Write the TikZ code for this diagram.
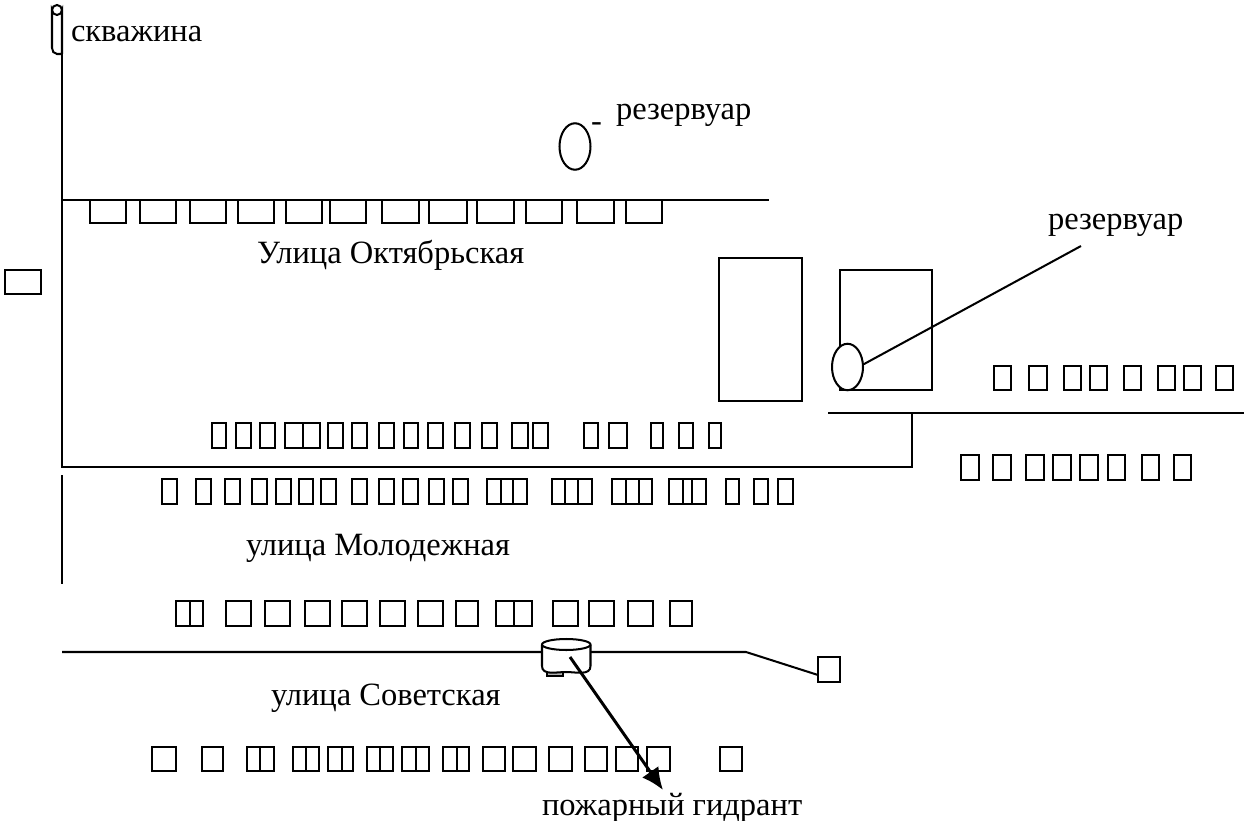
\documentclass[tikz,border=0pt]{standalone}
\usepackage{fontspec}
\setmainfont{Liberation Serif}
\usetikzlibrary{arrows.meta,shapes.geometric}

\begin{document}
\begin{tikzpicture}[x=0.02cm, y=-0.02cm, line width=1.15pt,
    label/.style={anchor=base west, inner sep=0pt, font=\fontsize{18.5}{22}\selectfont},
    tank/.style={draw, fill=white, ellipse, inner sep=0pt, minimum width=0.62cm, minimum height=0.93cm}]
        \useasboundingbox (0, 0) rectangle (1244, 821);

        % Roads
        \draw (62, 54) -- (62, 467) -- (912, 467) -- (912, 413);
        \draw (62, 475) -- (62, 584);
        \draw (62, 200) -- (769, 200);
        \draw (828, 413) -- (1244, 413);
        \draw (62, 652) -- (746, 652) -- (818, 675);

        % Well at the top of the pipe
        \draw (62, 54) -- (57, 54) to[out=180, in=-90] (52, 48) -- (52, 10)
            arc (180:0:5) -- (62, 54);
        \draw (52, 10) arc (180:360:5);

        % Houses along the streets, each row at its own height
        \foreach \xa/\xb in {90/126, 140/176, 190/226, 238/274, 286/322, 330/366, 382/419,
            429/467, 477/514, 526/562, 577/614, 626/662}{
            \draw (\xa, 200) rectangle (\xb, 223);
        }
        \foreach \xa/\xb in {212/226, 236/251, 260/275, 285/303, 303/320, 328/343, 352/367,
            379/394, 404/418, 428/443, 455/470, 482/497, 512/528, 533/548, 584/598, 609/627,
            651/663, 679/693, 709/721}{
            \draw (\xa, 423) rectangle (\xb, 448);
        }
        \foreach \xa/\xb in {162/177, 196/211, 225/240, 252/267, 276/291, 299/313, 321/336,
            352/367, 379/394, 403/418, 429/444, 453/468, 487/501, 501/513, 513/527, 552/565,
            565/578, 578/592, 612/626, 626/639, 639/652, 669/683, 683/692, 692/706, 726/739,
            754/768, 778/793}{
            \draw (\xa, 479) rectangle (\xb, 504);
        }
        \foreach \xa/\xb in {176/190, 190/203, 226/251, 265/290, 305/330, 342/367, 380/405,
            418/443, 456/478, 496/514, 514/532, 553/578, 589/614, 628/653, 670/692}{
            \draw (\xa, 601) rectangle (\xb, 626);
        }
        \foreach \xa/\xb in {152/176, 202/223, 247/260, 260/274, 293/306, 306/319, 328/342,
            342/353, 367/380, 380/393, 402/416, 416/429, 443/457, 457/469, 483/505, 513/536,
            549/572, 585/607, 616/638, 647/670, 720/742}{
            \draw (\xa, 747) rectangle (\xb, 771);
        }
        \foreach \xa/\xb in {994/1011, 1029/1047, 1064/1081, 1090/1107, 1124/1141, 1158/1175,
            1184/1201, 1216/1233}{
            \draw (\xa, 366) rectangle (\xb, 390);
        }
        \foreach \xa/\xb in {961/979, 993/1011, 1026/1044, 1053/1071, 1080/1098, 1108/1125,
            1142/1159, 1174/1191}{
            \draw (\xa, 455) rectangle (\xb, 480);
        }

        % Single buildings
        \draw (5, 270) rectangle (41, 294);
        \draw (719, 258) rectangle (802, 401);
        \draw (840, 270) rectangle (932, 390);
        \draw (818, 657) rectangle (840, 682);

        % Hydrant
        \draw[fill=gray!60] (547, 664) rectangle (563, 676);
        \draw[fill=white] (542, 645) -- (542, 666) to[out=-90, in=180] (566, 672)
            to[out=0, in=-90] (590.5, 666) -- (590.5, 645);
        \draw[fill=white] (566.25, 644.5) ellipse (24.25 and 5.5);
        \coordinate (hydrant) at (570, 657);
        \coordinate (hydranttip) at (663, 790);
        \draw[line width=1.7pt, -{Latex[length=0.44cm, width=0.4cm]}] (hydrant) -- (hydranttip);

        % Reservoirs
        \node[tank] (tankA) at (575, 146.5) {};
        \node[tank] (tankB) at (847.5, 367) {};
        \coordinate (tankBend) at (1081, 246);
        \draw (tankB.10) -- (tankBend);

        % Labels
        \node[label] (well) at (70, 42) {скважина};
        \node[label] (dash) at (590, 132) {-};
        \node[label] (tankAlabel) at (615, 119) {резервуар};
        \node[label] (tankBlabel) at (1047, 229) {резервуар};
        \node[label] (octob) at (256, 263) {Улица Октябрьская};
        \node[label] (molod) at (245, 555) {улица Молодежная};
        \node[label] (sovet) at (270, 705) {улица Советская};
        \node[label] (hydrantlabel) at (541, 815) {пожарный гидрант};
    \end{tikzpicture}
\end{document}
